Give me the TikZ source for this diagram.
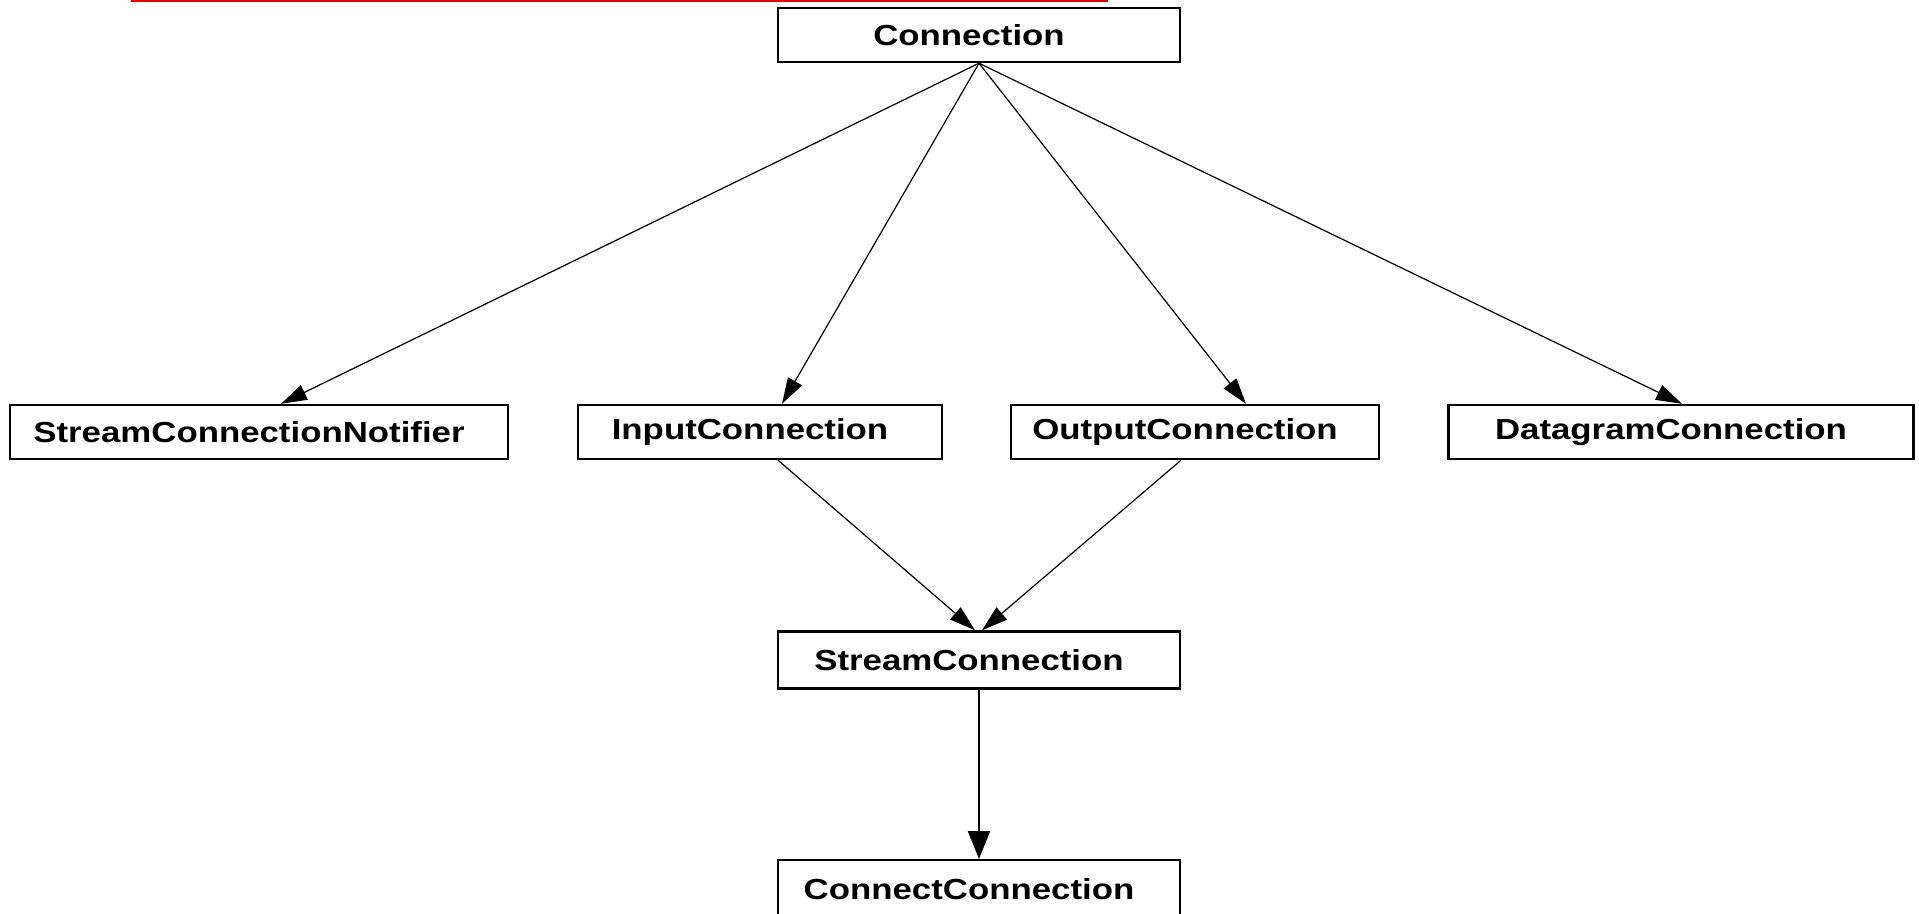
\documentclass[tikz,border=0pt]{standalone}
\usepackage{fontspec}
\newfontfamily\boxfont{Liberation Sans}[FakeStretch=1.2]
\usetikzlibrary{arrows.meta}
\definecolor{topred}{RGB}{222,0,0}
\begin{document}
\begin{tikzpicture}[x=1pt,y=-1pt,
  classbox/.style={draw=black, line width=2.4pt, fill=white, minimum height=54pt,
    inner sep=0pt, font=\boxfont\bfseries\fontsize{29}{30}\selectfont,
    execute at end node=\hspace{20pt}},
  link/.style={line width=1.2pt, -{Triangle[length=26pt,width=16pt]}},
  thicklink/.style={line width=2.2pt, -{Triangle[length=28pt,width=22pt]}}]
\useasboundingbox (0,0) rectangle (1919,913);
\clip (0,0) rectangle (1919,913);
\fill[white] (0,0) rectangle (1919,913);
\draw[topred, line width=2.5pt] (131,1) -- (1108,1);

\node[classbox, minimum width=402pt] (conn) at (979,35) {Connection};
\node[classbox, minimum width=498pt] (snot) at (259,432) {StreamConnectionNotifier};
\node[classbox, minimum width=364pt] (inp) at (760,432) {InputConnection};
\node[classbox, minimum width=368pt] (outp) at (1195,432) {OutputConnection};
\node[classbox, minimum width=465pt] (dgram) at (1681,432) {DatagramConnection};
\node[classbox, minimum width=402pt, minimum height=57pt] (sconn) at (979,660) {StreamConnection};
\node[classbox, minimum width=402pt, minimum height=57pt, anchor=north] (cconn) at (979,859) {ConnectConnection};

\draw[link] (conn.south) -- ([xshift=22pt]snot.north);
\draw[link] (conn.south) -- ([xshift=22pt]inp.north);
\draw[link] (conn.south) -- ([xshift=51pt]outp.north);
\draw[link] (conn.south) -- ([xshift=1pt]dgram.north);
\draw[link] ([xshift=18pt]inp.south) -- ([xshift=-4pt]sconn.north);
\draw[link] ([xshift=-14pt]outp.south) -- ([xshift=3pt]sconn.north);
\draw[thicklink] (sconn.south) -- (cconn.north);
\end{tikzpicture}
\end{document}
